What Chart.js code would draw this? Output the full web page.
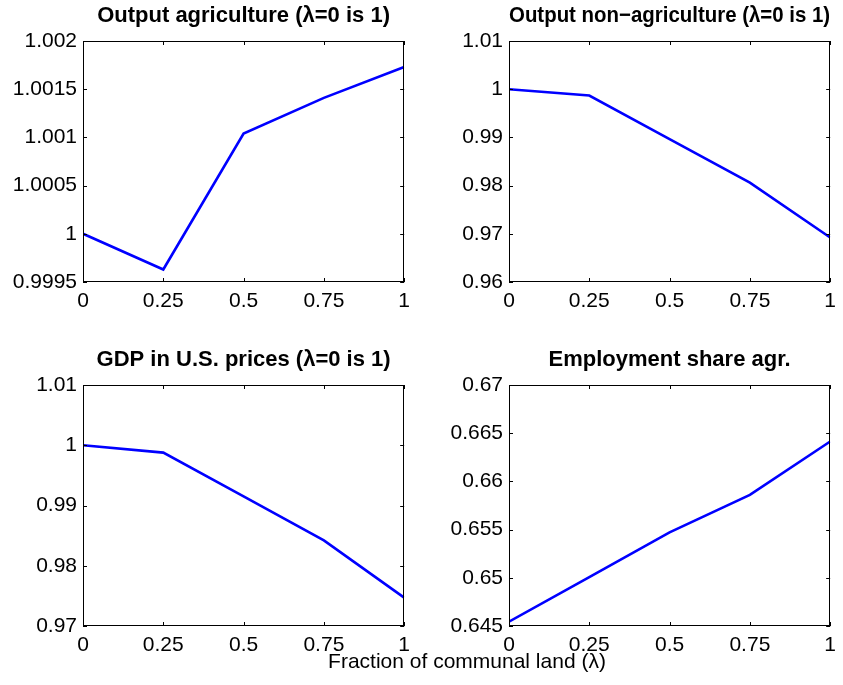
<!DOCTYPE html>
<html>
<head>
<meta charset="utf-8">
<script src="https://cdn.jsdelivr.net/npm/chart.js@4.4.1/dist/chart.umd.min.js"></script>
<style>
  body { margin: 0; background: #fff; }
  #fig { position: relative; width: 843px; height: 685px; background: #fff; }
  #fig canvas { position: absolute; }
  #xlabel {
    position: absolute; left: 0; width: 934px; top: 650px;
    text-align: center; font: 21px/21px "Liberation Sans", Arial, sans-serif; color: #000;
  }
</style>
</head>
<body>
<div id="fig">
  <canvas id="g1" width="417" height="330" style="left:0px;top:0px"></canvas>
  <canvas id="g2" width="417" height="330" style="left:426px;top:0px"></canvas>
  <canvas id="g3" width="417" height="330" style="left:0px;top:344px"></canvas>
  <canvas id="g4" width="417" height="330" style="left:426px;top:344px"></canvas>
  <div id="xlabel">Fraction of communal land (λ)</div>
</div>
<script>
// fração de terra comunal (λ)
const lambda = [0, 0.25, 0.5, 0.75, 1];

const outputAgr = [1.0000, 0.99963, 1.00104, 1.00141, 1.00173];
const outputNonAgr = [1.0000, 0.99869, 0.98965, 0.98062, 0.96924];
const gdpUS = [1.0000, 0.99878, 0.99151, 0.98420, 0.97470];
const empShareAgr = [0.64545, 0.65008, 0.65472, 0.65860, 0.66414];

const xTicks = [0, 0.25, 0.5, 0.75, 1];
const yTicksAgr = [0.9995, 1, 1.0005, 1.001, 1.0015, 1.002];
const yTicksNonAgr = [0.96, 0.97, 0.98, 0.99, 1, 1.01];
const yTicksGdp = [0.97, 0.98, 0.99, 1, 1.01];
const yTicksEmp = [0.645, 0.65, 0.655, 0.66, 0.665, 0.67];

const FONTE = '"Liberation Sans", Arial, sans-serif';

// caixa preta com ticks para dentro (estilo matlab)
const moldura = {
  id: 'moldura',
  afterDraw(chart) {
    const { ctx, chartArea: a, scales } = chart;
    const len = 4;
    ctx.save();
    ctx.strokeStyle = '#000';
    ctx.lineWidth = 1;
    ctx.strokeRect(Math.round(a.left) + 0.5, Math.round(a.top) + 0.5,
      Math.round(a.right - a.left) - 1, Math.round(a.bottom - a.top) - 1);
    ctx.beginPath();
    scales.x.ticks.forEach(t => {
      const px = Math.round(scales.x.getPixelForValue(t.value)) + 0.5;
      ctx.moveTo(px, a.bottom); ctx.lineTo(px, a.bottom - len);
      ctx.moveTo(px, a.top); ctx.lineTo(px, a.top + len);
    });
    scales.y.ticks.forEach(t => {
      const py = Math.round(scales.y.getPixelForValue(t.value)) + 0.5;
      ctx.moveTo(a.left, py); ctx.lineTo(a.left + len, py);
      ctx.moveTo(a.right, py); ctx.lineTo(a.right - len, py);
    });
    ctx.stroke();
    ctx.restore();
  }
};

function createChart(id, titulo, valores, yTicks) {
  const pontos = lambda.map((x, i) => ({ x: x, y: valores[i] }));
  return new Chart(document.getElementById(id), {
    type: 'line',
    data: {
      datasets: [{
        data: pontos,
        borderColor: '#0000ff',
        borderWidth: 2.6,
        pointRadius: 0,
        tension: 0
      }]
    },
    options: {
      responsive: false,
      animation: false,
      layout: { padding: { left: 0, right: 10, top: 0, bottom: 0 } },
      plugins: {
        legend: { display: false },
        tooltip: { enabled: false },
        title: {
          display: true,
          fullSize: false,
          text: titulo,
          color: '#000',
          font: { family: FONTE, size: 22, weight: 'bold', lineHeight: 1.2 },
          padding: { top: 2.8, bottom: 11.8 }
        }
      },
      scales: {
        x: {
          type: 'linear',
          min: xTicks[0],
          max: xTicks[xTicks.length - 1],
          grid: { display: false, drawTicks: false },
          border: { display: false },
          afterBuildTicks: s => { s.ticks = xTicks.map(v => ({ value: v })); },
          afterFit: s => { s.height = 48; },
          ticks: {
            color: '#000',
            padding: 7,
            maxRotation: 0,
            font: { family: FONTE, size: 21 },
            callback: v => String(v)
          }
        },
        y: {
          min: yTicks[0],
          max: yTicks[yTicks.length - 1],
          grid: { display: false, drawTicks: false },
          border: { display: false },
          afterBuildTicks: s => { s.ticks = yTicks.map(v => ({ value: v })); },
          afterFit: s => { s.width = 83; },
          ticks: {
            color: '#000',
            padding: 6,
            font: { family: FONTE, size: 21 },
            callback: v => String(v)
          }
        }
      }
    },
    plugins: [moldura]
  });
}

const g1 = createChart('g1', 'Output agriculture (λ=0 is 1)', outputAgr, yTicksAgr);
const g2 = createChart('g2', 'Output non\u2212agriculture (λ=0 is 1)', outputNonAgr, yTicksNonAgr);
const g3 = createChart('g3', 'GDP in U.S. prices (λ=0 is 1)', gdpUS, yTicksGdp);
const g4 = createChart('g4', 'Employment share agr.', empShareAgr, yTicksEmp);
</script>
</body>
</html>
